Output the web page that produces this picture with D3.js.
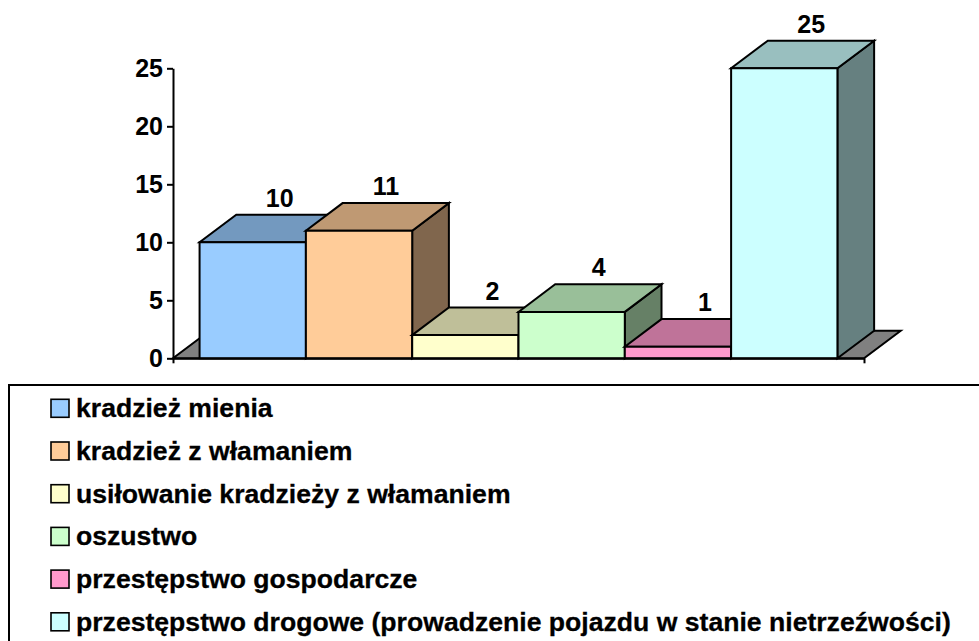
<!DOCTYPE html>
<html>
<head>
<meta charset="utf-8">
<script src="https://cdn.jsdelivr.net/npm/d3@7"></script>
<style>
  html, body { margin: 0; padding: 0; background: #ffffff; }
  svg { display: block; }
  text { font-family: "Liberation Sans", Arial, sans-serif; font-weight: bold; }
</style>
</head>
<body>
<svg id="chart" width="979" height="641"></svg>
<script>
// ---- data ----
const seriesNames = [
  "kradzież mienia",
  "kradzież z włamaniem",
  "usiłowanie kradzieży z włamaniem",
  "oszustwo",
  "przestępstwo gospodarcze",
  "przestępstwo drogowe (prowadzenie pojazdu w stanie nietrzeźwości)"
];
const values = [10, 11, 2, 4, 1, 25];
const yTickValues = [0, 5, 10, 15, 20, 25];
const frontColors = ["#99CCFF", "#FFCC99", "#FFFFCC", "#CCFFCC", "#FF99CC", "#CCFFFF"];

// ---- layout ----
const svg = d3.select("#chart");
const axisLeftX = 173, axisRightX = 864;
const baseY = 358.3, topY = 68.3;
const depthX = 36.7, depthY = -27.6;

const y = d3.scaleLinear().domain([0, 25]).range([baseY, topY]);
const x = d3.scaleBand().domain(seriesNames).range([axisLeftX, axisRightX])
  .paddingInner(0).paddingOuter(0.25);
const bw = x.bandwidth();

const shade = (c, k) => {
  const r = d3.rgb(c);
  return d3.rgb(r.r * k, r.g * k, r.b * k).formatHex();
};
const poly = pts => "M" + pts.map(p => p.join(",")).join("L") + "Z";

// floor
svg.append("path")
  .attr("d", poly([[axisLeftX, baseY], [axisRightX, baseY],
                   [axisRightX + depthX, baseY + depthY], [axisLeftX + depthX, baseY + depthY]]))
  .attr("fill", "#808080").attr("stroke", "#000").attr("stroke-width", 2)
  .attr("stroke-linejoin", "miter");

// bars
const bars = svg.append("g");
seriesNames.forEach((s, i) => {
  const x0 = x(s), x1 = x(s) + bw;
  const yt = y(values[i]), yb = y(0);
  const g = bars.append("g");
  const common = sel => sel.attr("stroke", "#000").attr("stroke-width", 2).attr("stroke-linejoin", "miter");
  // right side
  g.append("path").call(common)
    .attr("d", poly([[x1, yb], [x1 + depthX, yb + depthY], [x1 + depthX, yt + depthY], [x1, yt]]))
    .attr("fill", shade(frontColors[i], 0.5));
  // top
  g.append("path").call(common)
    .attr("d", poly([[x0, yt], [x1, yt], [x1 + depthX, yt + depthY], [x0 + depthX, yt + depthY]]))
    .attr("fill", shade(frontColors[i], 0.75));
  // front
  g.append("path").call(common)
    .attr("d", poly([[x0, yb], [x1, yb], [x1, yt], [x0, yt]]))
    .attr("fill", frontColors[i]);
});

// value labels
svg.append("g").selectAll("text").data(seriesNames).join("text")
  .attr("x", (d) => x(d) + bw / 2 + 27)
  .attr("y", (d, i) => y(values[i]) + depthY - 8)
  .attr("text-anchor", "middle")
  .attr("font-size", 25)
  .attr("fill", "#000")
  .text((d, i) => values[i]);

// y axis
const yAxis = svg.append("g").attr("transform", `translate(${axisLeftX},0)`)
  .call(d3.axisLeft(y).tickValues(yTickValues).tickSize(6).tickSizeOuter(0).tickPadding(4));
yAxis.selectAll("path.domain").attr("stroke", "#000").attr("stroke-width", 2);
yAxis.selectAll(".tick line").attr("stroke", "#000").attr("stroke-width", 2);
yAxis.selectAll(".tick text").attr("font-size", 25).attr("fill", "#000")
  .attr("font-family", "Liberation Sans, Arial, sans-serif").attr("font-weight", "bold");

// x axis
const xLin = d3.scaleLinear().domain([0, 1]).range([axisLeftX, axisRightX]);
const xAxis = svg.append("g").attr("transform", `translate(0,${baseY})`)
  .call(d3.axisBottom(xLin).tickValues([0, 1]).tickFormat("").tickSize(5).tickSizeOuter(0));
xAxis.selectAll("path.domain").attr("stroke", "#000").attr("stroke-width", 2);
xAxis.selectAll(".tick line").attr("stroke", "#000").attr("stroke-width", 2);

// legend
const legend = svg.append("g");
legend.append("rect")
  .attr("x", 9).attr("y", 385).attr("width", 1000).attr("height", 300)
  .attr("fill", "#fff").attr("stroke", "#000").attr("stroke-width", 2);
const rowY = d3.scaleLinear().domain([0, 1]).range([399.3, 442]);
const items = legend.selectAll("g.item").data(seriesNames).join("g")
  .attr("class", "item")
  .attr("transform", (d, i) => `translate(0,${rowY(i)})`);
items.append("rect")
  .attr("x", 51).attr("y", 0).attr("width", 18).attr("height", 18)
  .attr("fill", (d, i) => frontColors[i])
  .attr("stroke", "#000").attr("stroke-width", 1.6);
items.append("text")
  .attr("x", 76).attr("y", 18)
  .attr("font-size", 26.6).attr("fill", "#000")
  .attr("stroke", "#000").attr("stroke-width", 0.3)
  .text(d => d);
</script>
</body>
</html>
